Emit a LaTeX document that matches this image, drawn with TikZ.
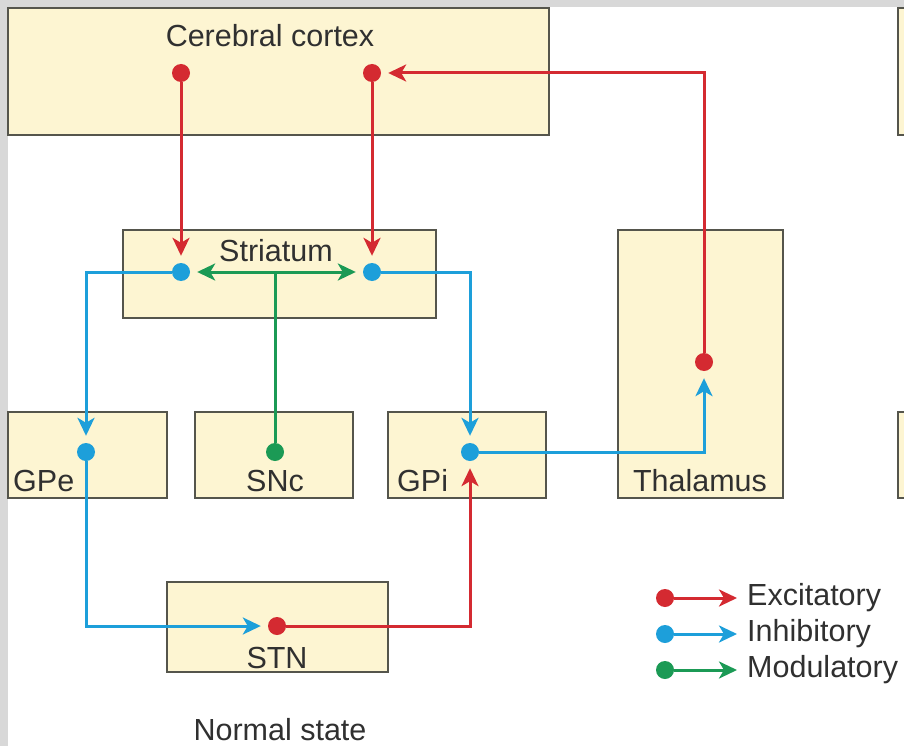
\documentclass[tikz,border=0pt]{standalone}
\usepackage{fontspec}
\setmainfont{Liberation Sans}
\usetikzlibrary{arrows.meta}
\definecolor{excred}{HTML}{D42A31}
\definecolor{inhblue}{HTML}{1D9FDA}
\definecolor{modgreen}{HTML}{1B9A55}
\definecolor{cream}{HTML}{FDF5D2}
\definecolor{boxline}{HTML}{55554C}
\definecolor{bggray}{HTML}{D8D8D8}
\definecolor{txt}{HTML}{303030}
\tikzset{
  box/.style={draw=boxline, fill=cream, line width=1.8pt, inner sep=0pt},
  lbl/.style={text=txt, font=\fontsize{30.5}{33}\selectfont, inner sep=0pt},
  dot/.style={circle, inner sep=0pt, minimum size=18pt, fill=#1},
  conn/.style={line width=3pt, draw=#1, -{Stealth[length=18pt,width=17pt,inset=5pt]}, shorten >=7pt},
  plain/.style={line width=3pt, draw=#1},
}
\begin{document}
\begin{tikzpicture}[x=1pt,y=-1pt]
\clip (0,0) rectangle (904,746);
\fill[white] (0,0) rectangle (904,746);
\fill[bggray] (0,0) rectangle (904,7);
\fill[bggray] (0,0) rectangle (8,746);

% partial boxes of the neighbouring panel
\node[box, minimum width=60pt, minimum height=127pt] (nextcortex) at (928,71.5) {};
\node[box, minimum width=60pt, minimum height=86pt] (nextgpe) at (928,455) {};

% boxes
\node[box, minimum width=541pt, minimum height=127pt] (cortex) at (278.5,71.5) {};
\node[box, minimum width=313pt, minimum height=88pt] (striatum) at (279.5,274) {};
\node[box, minimum width=165pt, minimum height=268pt] (thalamus) at (700.5,364) {};
\node[box, minimum width=159pt, minimum height=86pt] (gpebox) at (87.5,455) {};
\node[box, minimum width=158pt, minimum height=86pt] (sncbox) at (274,455) {};
\node[box, minimum width=158pt, minimum height=86pt] (gpibox) at (467,455) {};
\node[box, minimum width=221pt, minimum height=90pt] (stnbox) at (277.5,627) {};

% labels
\node[lbl] (tcortex) at (270,36) {Cerebral cortex};
\node[lbl] (tstriatum) at (276,251) {Striatum};
\node[lbl] (tthalamus) at (700,481) {Thalamus};
\node[lbl, anchor=west] (tgpe) at (13,481) {GPe};
\node[lbl] (tsnc) at (275,481) {SNc};
\node[lbl, anchor=west] (tgpi) at (397,481) {GPi};
\node[lbl] (tstn) at (277,658) {STN};
\node[lbl] (tnormal) at (280,730) {Normal state};

% dots
\node[dot=excred] (c1) at (181,73) {};
\node[dot=excred] (c2) at (372,73) {};
\node[dot=inhblue] (s1) at (181,272) {};
\node[dot=inhblue] (s2) at (372,272) {};
\node[dot=excred] (th) at (704,362) {};
\node[dot=inhblue] (gpe) at (86,452) {};
\node[dot=modgreen] (snc) at (275,452) {};
\node[dot=inhblue] (gpi) at (470,452) {};
\node[dot=excred] (stn) at (277,626) {};
\coordinate (junc) at (snc |- s1);

% connectors
\draw[conn=excred] (c1) -- (s1);
\draw[conn=excred] (c2) -- (s2);
\draw[conn=excred] (th) |- (c2);
\draw[conn=inhblue] (s1) -| (gpe);
\draw[conn=inhblue] (s2) -| (gpi);
\draw[conn=inhblue] (gpe) |- (stn);
\draw[conn=excred] (stn) -| (gpi);
\draw[conn=inhblue] (gpi) -| (th);
\draw[plain=modgreen] (snc) -- (junc);
\draw[conn=modgreen] (junc) -- (s1);
\draw[conn=modgreen] (junc) -- (s2);

% legend
\node[dot=excred] (ld1) at (665,598) {};
\node[dot=inhblue] (ld2) at (665,634) {};
\node[dot=modgreen] (ld3) at (665,670) {};
\coordinate (le1) at (744,598);
\coordinate (le2) at (744,634);
\coordinate (le3) at (744,670);
\draw[conn=excred] (ld1) -- (le1);
\draw[conn=inhblue] (ld2) -- (le2);
\draw[conn=modgreen] (ld3) -- (le3);
\node[lbl, anchor=west] (lt1) at (747,598) {Excitatory};
\node[lbl, anchor=west] (lt2) at (747,634) {Inhibitory};
\node[lbl, anchor=west] (lt3) at (747,670) {Modulatory};
\end{tikzpicture}
\end{document}
